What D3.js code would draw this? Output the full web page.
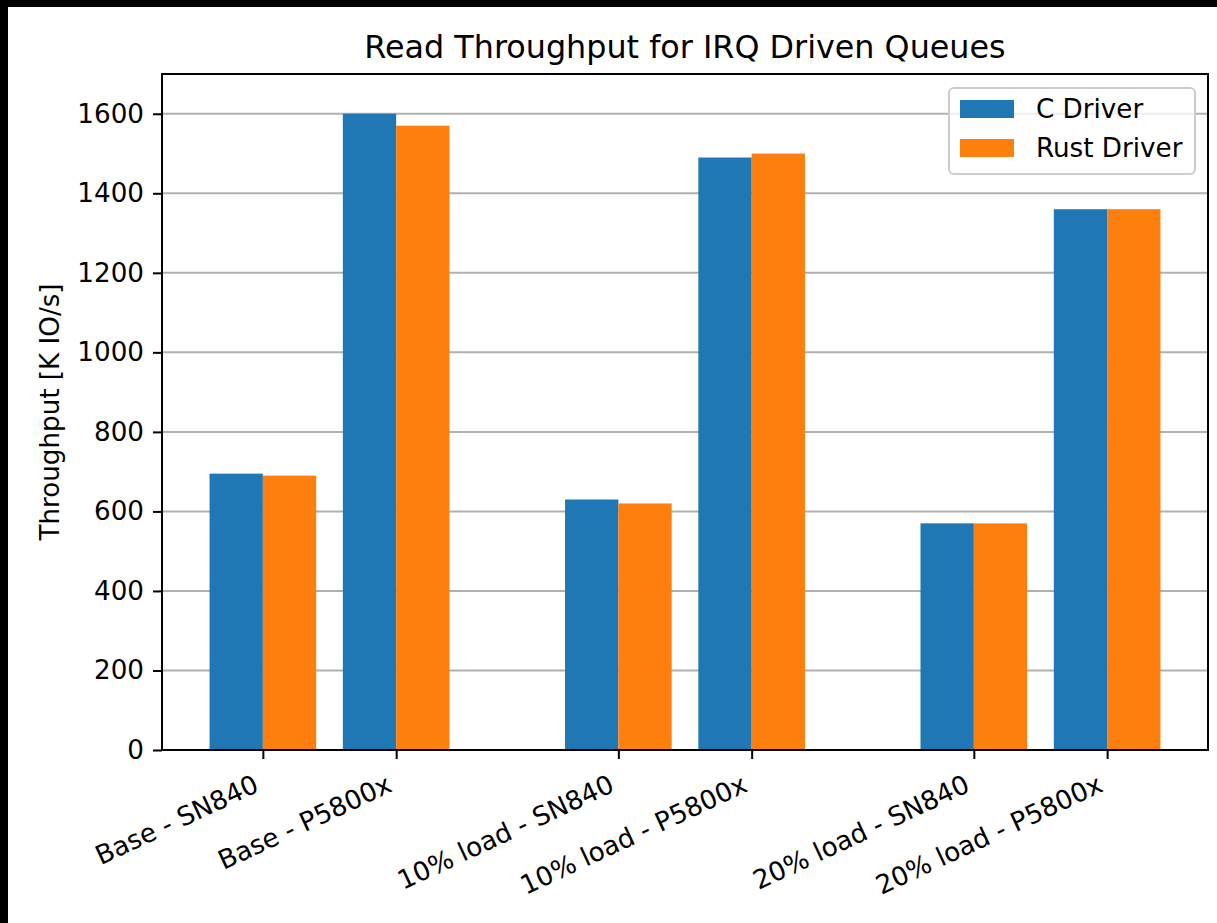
<!DOCTYPE html>
<html><head><meta charset="utf-8">
<script src="https://cdn.jsdelivr.net/npm/d3@7"></script>
<style>
html,body{margin:0;padding:0;background:#000;}
svg{display:block;}
text{font-family:"DejaVu Sans",sans-serif;fill:#000;}
</style></head>
<body>
<script>
const categories = ["Base - SN840","Base - P5800x","10% load - SN840","10% load - P5800x","20% load - SN840","20% load - P5800x"];
const positions = [0, 0.75, 2, 2.75, 4, 4.75];
const cDriver = [695, 1600, 630, 1490, 570, 1360];
const rustDriver = [690, 1570, 620, 1500, 570, 1360];
const seriesNames = ["C Driver","Rust Driver"];
const seriesColors = ["#1f77b4","#ff7f0e"];
const yTicks = [0,200,400,600,800,1000,1200,1400,1600];
const title = "Read Throughput for IRQ Driven Queues";
const yLabel = "Throughput [K IO/s]";

const W = 1217, H = 923;
const FS = 26.2, TFS = 31.8;
const svg = d3.select("body").append("svg").attr("width", W).attr("height", H);
svg.append("rect").attr("x",8).attr("y",7).attr("width",W-8).attr("height",H-7).attr("fill","#fff");

const L = 162, R = 1208, T = 74, B = 750;
const barW = 0.3;
const xmin = d3.min(positions) - barW, xmax = d3.max(positions) + barW;
const pad = (xmax - xmin) * 0.05;
const x = d3.scaleLinear().domain([xmin - pad, xmax + pad]).range([L, R]);
const y = d3.scaleLinear().domain([0, 1700]).range([B, T]);

// grid
svg.append("g").selectAll("line").data(yTicks).join("line")
  .attr("x1", L).attr("x2", R).attr("y1", d=>y(d)).attr("y2", d=>y(d))
  .attr("stroke","#b0b0b0").attr("stroke-width",2);

// bars
const series = [cDriver, rustDriver];
series.forEach((vals, si) => {
  svg.append("g").selectAll("rect").data(vals).join("rect")
    .attr("x", (d,i)=> x(positions[i] + (si===0 ? -barW : 0)))
    .attr("width", x(barW) - x(0))
    .attr("y", d=>y(d)).attr("height", d=>B - y(d))
    .attr("fill", seriesColors[si]);
});

// axes
const yAxis = d3.axisLeft(y).tickValues(yTicks).tickSize(9).tickPadding(9).tickFormat(d3.format("d"));
const gy = svg.append("g").attr("transform",`translate(${L},0)`).call(yAxis);
gy.select(".domain").remove();
gy.selectAll(".tick line").attr("stroke","#000").attr("stroke-width",2);
gy.selectAll(".tick text").attr("font-size",FS).attr("font-family","DejaVu Sans").attr("fill","#000");

const xAxis = d3.axisBottom(x).tickValues(positions).tickSize(9).tickFormat("");
const gx = svg.append("g").attr("transform",`translate(0,${B})`).call(xAxis);
gx.select(".domain").remove();
gx.selectAll(".tick line").attr("stroke","#000").attr("stroke-width",2);

// frame
svg.append("rect").attr("x",L).attr("y",T).attr("width",R-L).attr("height",B-T)
  .attr("fill","none").attr("stroke","#000").attr("stroke-width",2);

// x labels rotated 25deg, bbox right aligned to tick, top at fixed y
const labTop = 769;
categories.forEach((c,i)=>{
  const tx = x(positions[i]);
  const t = svg.append("text").text(c).attr("font-size",FS)
    .attr("text-anchor","end")
    .attr("transform",`translate(${tx},${labTop}) rotate(-25)`);
  const bb = t.node().getBoundingClientRect();
  const dx = tx - bb.right, dy = labTop - bb.top;
  t.attr("transform",`translate(${tx+dx},${labTop+dy}) rotate(-25)`);
});

// title
svg.append("text").attr("x",(L+R)/2).attr("y",58).attr("text-anchor","middle")
  .attr("font-size",TFS).text(title);

// y label
svg.append("text").attr("transform",`translate(59,${(T+B)/2}) rotate(-90)`)
  .attr("text-anchor","middle").attr("font-size",FS).text(yLabel);

// legend
const lg = svg.append("g");
lg.append("rect").attr("x",949).attr("y",88).attr("width",246).attr("height",86)
  .attr("rx",5).attr("fill","#fff").attr("fill-opacity",0.8)
  .attr("stroke","#cccccc").attr("stroke-width",2);
seriesNames.forEach((n,i)=>{
  lg.append("rect").attr("x",960).attr("y",100+i*39).attr("width",54).attr("height",18)
    .attr("fill",seriesColors[i]);
  lg.append("text").attr("x",1036).attr("y",118+i*39).attr("font-size",FS).text(n);
});
</script>
</body></html>
